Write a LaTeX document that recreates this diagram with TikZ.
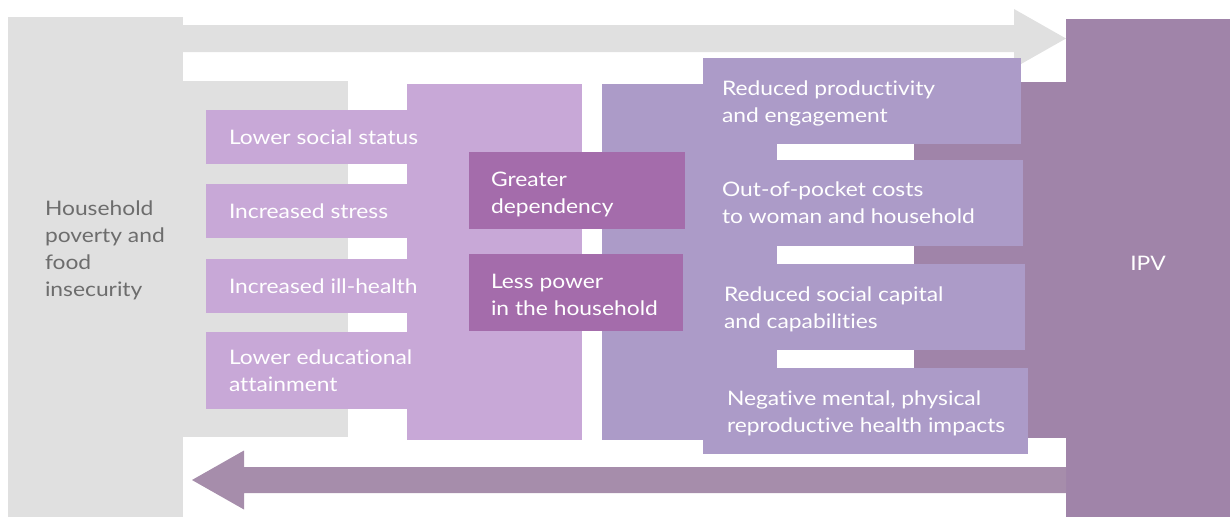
\documentclass[tikz,border=0pt]{standalone}
\usepackage{fontspec}
\setmainfont{Lato}[FakeStretch=1.14, Ligatures=NoCommon]
\usetikzlibrary{calc}
\definecolor{cgray}{HTML}{E0E0E0}
\definecolor{clight}{HTML}{C8A8D7}
\definecolor{cmed}{HTML}{A46CAB}
\definecolor{clav}{HTML}{AC9BC8}
\definecolor{cipv}{HTML}{A084A9}
\definecolor{carrow}{HTML}{A68DAB}
\definecolor{ctext}{HTML}{6D6D6D}
\begin{document}
\begin{tikzpicture}[x=1pt,y=-1pt]
\tikzset{
  box/.style={anchor=north west, inner sep=0pt, outer sep=0pt, draw=none},
  lbl/.style={anchor=west, align=left, inner sep=0pt, outer sep=0pt, text=white,
    font=\fontsize{20}{27}\selectfont},
}
\useasboundingbox (0,0) rectangle (1230,517);
% grey source block
\node[box, fill=cgray, minimum width=175pt, minimum height=500pt] (hh) at (8,17) {};
\node[box, fill=cgray, minimum width=165pt, minimum height=356pt] (hhx) at (183,81) {};
\node[box, fill=cipv, minimum width=164pt, minimum height=498pt] (ipv) at (1066,19) {};
% top arrow
\coordinate (tstart) at (hh.east |- 0,38.5);
\coordinate (tend) at (ipv.west |- 0,38.5);
\fill[cgray] ($(tstart)+(0,-13.5)$) -- ($(tend)+(-52,-13.5)$) -- ($(tend)+(-52,-29.5)$)
  -- (tend) -- ($(tend)+(-52,29.5)$) -- ($(tend)+(-52,13.5)$) -- ($(tstart)+(0,13.5)$) -- cycle;
% light purple block
\node[box, fill=clight, minimum width=175pt, minimum height=356pt] (lp) at (407,84) {};
\node[box, fill=clight, minimum width=214pt, minimum height=54pt] (l1) at (206,110) {};
\node[box, fill=clight, minimum width=214pt, minimum height=54pt] (l2) at (206,184) {};
\node[box, fill=clight, minimum width=214pt, minimum height=54pt] (l3) at (206,259) {};
\node[box, fill=clight, minimum width=214pt, minimum height=77pt] (l4) at (206,332) {};
% lavender block
\node[box, fill=clav, minimum width=175pt, minimum height=356pt] (lv) at (602,84) {};
\node[box, fill=cipv, minimum width=152pt, minimum height=356pt] (ipvx) at (914,82) {};
\node[box, fill=clav, minimum width=318pt, minimum height=86pt] (r1) at (703,58) {};
\node[box, fill=clav, minimum width=320pt, minimum height=86pt] (r2) at (703,160) {};
\node[box, fill=clav, minimum width=322pt, minimum height=86pt] (r3) at (703,264) {};
\node[box, fill=clav, minimum width=325pt, minimum height=86pt] (r4) at (703,368) {};
% medium purple boxes
\node[box, fill=cmed, minimum width=216pt, minimum height=77pt] (m1) at (469,152) {};
\node[box, fill=cmed, minimum width=214pt, minimum height=77pt] (m2) at (469,254) {};
% bottom arrow
\coordinate (bstart) at (ipv.west |- 0,480);
\coordinate (bend) at ([xshift=9pt]hh.east |- 0,480);
\fill[carrow] ($(bstart)+(0,-13)$) -- ($(bend)+(52,-13)$) -- ($(bend)+(52,-29.5)$)
  -- (bend) -- ($(bend)+(52,29.5)$) -- ($(bend)+(52,13)$) -- ($(bstart)+(0,13)$) -- cycle;
% texts
\node[lbl, text=ctext] (thh) at (45,250.5) {Household\\poverty and\\food\\insecurity};
\node[lbl] (tl1) at ([xshift=23pt]l1.west) {Lower social status};
\node[lbl] (tl2) at ([xshift=23pt]l2.west) {Increased stress};
\node[lbl] (tl3) at ([xshift=23pt]l3.west) {Increased ill-health};
\node[lbl] (tl4) at ([xshift=23pt]l4.west) {Lower educational\\attainment};
\node[lbl] (tm1) at ([xshift=22pt,yshift=-4pt]m1.west) {Greater\\dependency};
\node[lbl] (tm2) at ([xshift=22pt,yshift=-2pt]m2.west) {Less power\\in the household};
\node[lbl] (tr1) at ([xshift=19pt,yshift=-2pt]r1.west) {Reduced productivity\\and engagement};
\node[lbl] (tr2) at ([xshift=19pt,yshift=0pt]r2.west) {Out-of-pocket costs\\to woman and household};
\node[lbl] (tr3) at ([xshift=21pt,yshift=-2.5pt]r3.west) {Reduced social capital\\and capabilities};
\node[lbl] (tr4) at ([xshift=24pt,yshift=-2pt]r4.west) {Negative mental, physical\\reproductive health impacts};
\node[lbl, anchor=center] (tipv) at ([yshift=5pt]ipv.center) {IPV};
\end{tikzpicture}
\end{document}
